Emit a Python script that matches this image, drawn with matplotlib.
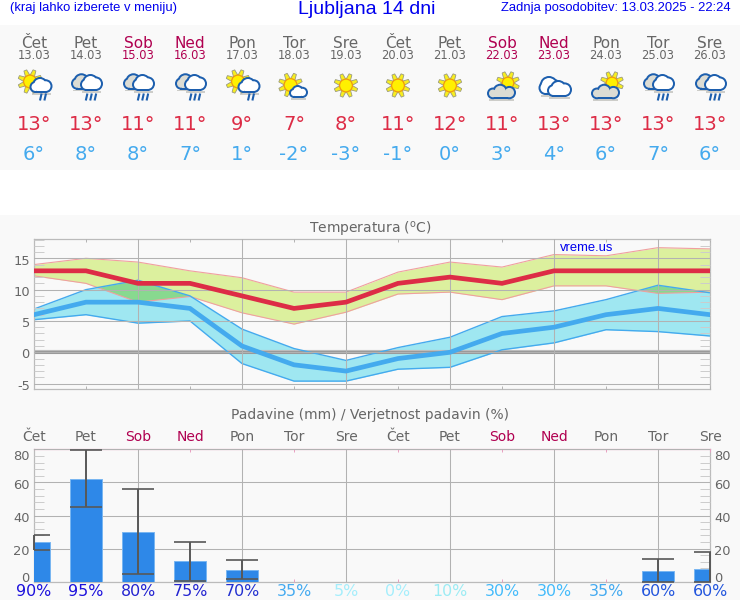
import numpy as np
import matplotlib
matplotlib.use("Agg")
import matplotlib.pyplot as plt
from matplotlib.patches import Circle, Rectangle, Polygon
from matplotlib.ticker import MultipleLocator, FixedLocator, NullFormatter
from matplotlib.transforms import ScaledTranslation

plt.rcParams["axes.unicode_minus"] = False

days = ["Čet", "Pet", "Sob", "Ned", "Pon", "Tor", "Sre", "Čet", "Pet", "Sob", "Ned", "Pon", "Tor", "Sre"]
dates = ["13.03", "14.03", "15.03", "16.03", "17.03", "18.03", "19.03", "20.03", "21.03", "22.03", "23.03", "24.03", "25.03", "26.03"]
icons = ["sun_rain", "clouds_rain", "clouds_rain", "clouds_rain", "sun_rain", "sun_small_cloud", "sun",
         "sun", "sun", "cloud_sun", "clouds", "cloud_sun", "clouds_rain", "clouds_rain"]
t_high = [13, 13, 11, 11, 9, 7, 8, 11, 12, 11, 13, 13, 13, 13]
t_low = [6, 8, 8, 7, 1, -2, -3, -1, 0, 3, 4, 6, 7, 6]
high_top = [14.0, 15.0, 14.4, 13.0, 11.9, 9.6, 9.6, 12.8, 14.4, 13.6, 15.6, 15.4, 16.7, 16.5]
high_bot = [12.2, 11.0, 8.0, 8.9, 6.3, 4.5, 6.4, 9.3, 9.6, 8.4, 10.6, 10.6, 9.4, 9.6]
low_top = [6.9, 10.0, 11.5, 9.0, 3.7, 0.6, -1.3, 0.75, 2.4, 5.7, 6.6, 8.4, 10.7, 9.5]
low_bot = [5.2, 6.0, 4.65, 5.0, -1.8, -4.6, -4.6, -2.7, -2.4, 0.4, 1.5, 3.6, 3.3, 2.6]
rain = [23.8, 62.3, 30.2, 12.3, 7.3, 0, 0, 0, 0, 0, 0, 0, 6.2, 7.9]
rain_top = [28.4, 79.6, 56.0, 24.2, 13.1, 0, 0, 0, 0, 0, 0, 0, 13.5, 17.7]
rain_bot = [19.2, 45.0, 4.4, 0.6, 1.4, 0, 0, 0, 0, 0, 0, 0, 0.0, 0.0]
prob = [90, 95, 80, 75, 70, 35, 5, 0, 10, 30, 30, 35, 60, 60]
prob_colors = ["#1c10dc", "#1c10dc", "#2222d0", "#2222d0", "#2230d0", "#44aaf0", "#a5eefc", "#a5eefc",
               "#9cecf4", "#44bbfb", "#44bbfb", "#44aaf0", "#2255dd", "#2255dd"]

W, H = 740, 600
BG = "#f9f9f9"
GRAY = "#666666"
WEEKEND = "#b00050"
RED = "#dd2c46"
BLUE = "#44aaee"
GRID = "#b2b2b2"
TICK = "#cccccc"
x = np.arange(14)


def col_x(i):
    return 34 + 52 * i


def day_color(d):
    return WEEKEND if d in ("Sob", "Ned") else GRAY


def add_axes(top, bottom):
    return fig.add_axes([34 / W, 1 - bottom / H, (710 - 34) / W, (bottom - top) / H], facecolor="none")


fig = plt.figure(figsize=(W / 100, H / 100), dpi=100, facecolor=BG)
ov = fig.add_axes([0, 0, 1, 1], zorder=0)
ov.set_xlim(0, W)
ov.set_ylim(H, 0)
ov.axis("off")
ov.add_patch(Rectangle((0, 0), W, 25, fc="white", ec="none"))
ov.add_patch(Rectangle((0, 170), W, 45, fc="white", ec="none"))

SANS = "Liberation Sans"
ov.text(10, 7.5, "(kraj lahko izberete v meniju)", family=SANS, fontsize=9.4, color="#0000ee", ha="left", va="center")
ov.text(367, 9, "Ljubljana 14 dni", family=SANS, fontsize=14, color="#0000ee", ha="center", va="center")
ov.text(731, 7.5, "Zadnja posodobitev: 13.03.2025 - 22:24", family=SANS, fontsize=9.35, color="#0000ee", ha="right", va="center")


def blob(parts, fill, edge="#1d5fae", lw=2.0, z=3):
    for kind, a in parts:
        if kind == "c":
            ov.add_patch(Circle(a[:2], a[2] + lw / 2, fc=edge, ec="none", zorder=z))
        else:
            ov.add_patch(Rectangle((a[0] - lw / 2, a[1] - lw / 2), a[2] + lw, a[3] + lw, fc=edge, ec="none", zorder=z))
    for kind, a in parts:
        if kind == "c":
            ov.add_patch(Circle(a[:2], a[2] - lw / 2, fc=fill, ec="none", zorder=z + 0.1))
        else:
            ov.add_patch(Rectangle((a[0] + lw / 2, a[1] + lw / 2), a[2] - lw, a[3] - lw, fc=fill, ec="none", zorder=z + 0.1))


def cloud(cx, cy, w, h, fill, z=3):
    """Cloud centred on (cx, cy) of w x h pixels, with a flat base."""
    base = cy + h / 2
    r1, r2, r3 = h * 0.36, h * 0.48, h * 0.42
    parts = [
        ("c", (cx - w / 2 + r1, base - r1, r1)),
        ("c", (cx - w * 0.05, cy - h / 2 + r2, r2)),
        ("c", (cx + w / 2 - r3, base - r3, r3)),
        ("r", (cx - w / 2 + r1, base - h * 0.5, w - r1 - r3, h * 0.5)),
    ]
    ov.add_patch(Rectangle((cx - w / 2 + 1, base + 1), w - 2, 1.6, fc="#999990", ec="none", alpha=0.45, zorder=z - 0.5))
    blob(parts, fill, z=z)


def sun(cx, cy, r=6.4, ray=12, z=2):
    for k in range(8):
        a = np.deg2rad(22 + 45 * k)
        d = np.array([np.cos(a), np.sin(a)])
        n = np.array([-d[1], d[0]])
        c = np.array([cx, cy])
        pts = [c + d * (r - 0.5) + n * 2.3, c + d * ray + n * 1.5, c + d * ray - n * 1.5, c + d * (r - 0.5) - n * 2.3]
        ov.add_patch(Polygon(pts, closed=True, fc="#f7ee20", ec="#9a9a80", lw=0.6, zorder=z))
    ov.add_patch(Circle((cx, cy), r, fc="#fff000", ec="#f09a10", lw=0.9, zorder=z + 0.2))


def rain_marks(cx, n, top=93.5, bottom=100.5):
    for k in range(n):
        off = (k - (n - 1) / 2) * 4.4
        ov.plot([cx + off + 0.8, cx + off - 0.8], [top, bottom], color="#1d5fae", lw=1.5, solid_capstyle="butt", zorder=4)


def draw_icon(kind, c):
    if kind == "sun":
        sun(c, 85.5)
    elif kind == "sun_small_cloud":
        sun(c - 3.5, 85)
        cloud(c + 4.5, 91.5, 17, 11, "white")
    elif kind == "sun_rain":
        sun(c - 4, 81.5)
        cloud(c + 7, 85, 21, 14, "white")
        rain_marks(c + 9, 2)
    elif kind == "clouds_rain":
        cloud(c - 3.5, 81.5, 21, 14.5, "#dcdcd4")
        cloud(c + 5.5, 82.5, 21, 15, "white", z=5)
        rain_marks(c + 5, 3)
    elif kind == "cloud_sun":
        sun(c + 6, 83, r=5.8, ray=11.5)
        cloud(c - 0.5, 91.5, 27, 13.5, "#dcdcd4")
    elif kind == "clouds":
        cloud(c - 4, 85.5, 21, 17, "white")
        cloud(c + 5.5, 88.5, 23, 15, "white", z=5)


for i in range(14):
    c = col_x(i)
    ov.text(c, 43, days[i], fontsize=11, color=day_color(days[i]), ha="center", va="center")
    ov.text(c, 55.5, dates[i], fontsize=8.3, color=day_color(days[i]), ha="center", va="center")
    draw_icon(icons[i], c)
    ov.text(c, 125, f"{t_high[i]}°", fontsize=14, color=RED, ha="center", va="center")
    ov.text(c, 154, f"{t_low[i]}°", fontsize=14, color=BLUE, ha="center", va="center")
    ov.text(c, 437, days[i], fontsize=10, color=day_color(days[i]), ha="center", va="center")
    ov.text(c, 591.5, f"{prob[i]}%", fontsize=11.4, color=prob_colors[i], ha="center", va="center")

ov.text(370, 229, "Temperatura ($^{\\rm o}$C)", fontsize=10, color=GRAY, ha="center", va="center")
ov.text(370, 415, "Padavine (mm) / Verjetnost padavin (%)", fontsize=10, color=GRAY, ha="center", va="center")


def style_axes(a, major_y, minor_y):
    a.set_xlim(0, 13)
    a.xaxis.set_major_locator(FixedLocator(x[2::2]))
    a.xaxis.set_minor_locator(FixedLocator(x[1::2]))
    a.xaxis.set_major_formatter(NullFormatter())
    a.yaxis.set_major_locator(MultipleLocator(major_y))
    a.yaxis.set_minor_locator(MultipleLocator(minor_y))
    a.tick_params(axis="x", which="major", length=0)
    a.tick_params(axis="x", which="minor", direction="in", length=2, width=0.7, color=GRID, top=True, bottom=True)
    a.tick_params(axis="y", which="major", length=0, labelsize=9.4, labelcolor=GRAY, pad=3)
    a.tick_params(axis="y", which="minor", direction="in", length=7.2, width=0.7, color=TICK, left=True, right=True)
    a.grid(True, which="major", color=GRID, lw=0.75, zorder=1.5)
    a.set_axisbelow(False)
    for s in a.spines.values():
        s.set_color("#bbbbbb")
        s.set_linewidth(0.9)


def shift_labels(labels, offsets):
    for lab, off in zip(labels, offsets):
        lab.set_transform(lab.get_transform() + ScaledTranslation(0, -off / 100, fig.dpi_scale_trans))


# Temperature panel
ax = add_axes(239, 389)
ax.set_ylim(-5.86, 18.08)
style_axes(ax, 5, 1)
high_band = ax.fill_between(x, high_bot, high_top, color="#dcf09e", lw=0, zorder=1)
ax.fill_between(x, low_bot, low_top, color="#9fe7f1", lw=0, zorder=1.1)
overlap = ax.fill_between(x, low_bot, low_top, color="#88d98f", lw=0, zorder=1.2)
overlap.set_clip_path(high_band.get_paths()[0], ax.transData)
ax.axhline(0, color="#bdbdbd", lw=3.0, zorder=2)
ax.axhline(0, color="#8f8f8f", lw=1.8, zorder=2.1)
ax.plot(x, high_top, color="#f0a0a0", lw=0.8, zorder=2.3)
ax.plot(x, high_bot, color="#f0a0a0", lw=0.8, zorder=2.3)
ax.plot(x, low_top, color=BLUE, lw=1.0, zorder=2.4)
ax.plot(x, low_bot, color=BLUE, lw=1.0, zorder=2.4)
ax.plot(x, t_low, color=BLUE, lw=3.4, zorder=2.6, solid_joinstyle="miter")
ax.plot(x, t_high, color=RED, lw=3.4, zorder=2.7, solid_joinstyle="miter")
ax.text(560, 248, "vreme.us", family=SANS, fontsize=9.4, color="#0000ee", ha="left", va="center",
        transform=ov.transData, zorder=5)
ax.set_yticks([-5, 0, 5, 10, 15])
ax.yaxis.set_minor_locator(MultipleLocator(1))
shift_labels(ax.get_yticklabels(), [1.5, 1, 1, 1.5, 1.5])

# Precipitation panel
bx = add_axes(449.3, 581.7)
bx.set_ylim(0, 80)
style_axes(bx, 20, 4)
bx.bar(x, rain, width=0.61, color="#2e88e8", edgecolor="#79b6f2", linewidth=0.7, zorder=2.6)
idx = [i for i in x if rain[i] > 0]
vals = np.array([rain[i] for i in idx])
err = np.array([[rain[i] - rain_bot[i] for i in idx], [rain_top[i] - rain[i] for i in idx]])
_, caps, bars = bx.errorbar(idx, vals, yerr=err, fmt="none", ecolor="#585858", elinewidth=1.4,
                            capsize=11.6, capthick=1.2, zorder=3)
for b in bars:
    b.set_clip_on(False)
bx.spines["top"].set_color("#e8a0c0")
bx.tick_params(axis="x", which="minor", color="#e8a0c0")
bx.tick_params(axis="y", which="both", labelleft=True, labelright=True)
bx.set_yticks([0, 20, 40, 60, 80])
bx.yaxis.set_minor_locator(MultipleLocator(4))
offs = [-4.5, 1.5, 1.5, 1.5, 6]
shift_labels(bx.get_yticklabels(), offs)
shift_labels([t.label2 for t in bx.yaxis.get_major_ticks()], offs)

fig.savefig("out.png", dpi=100, facecolor=BG)
